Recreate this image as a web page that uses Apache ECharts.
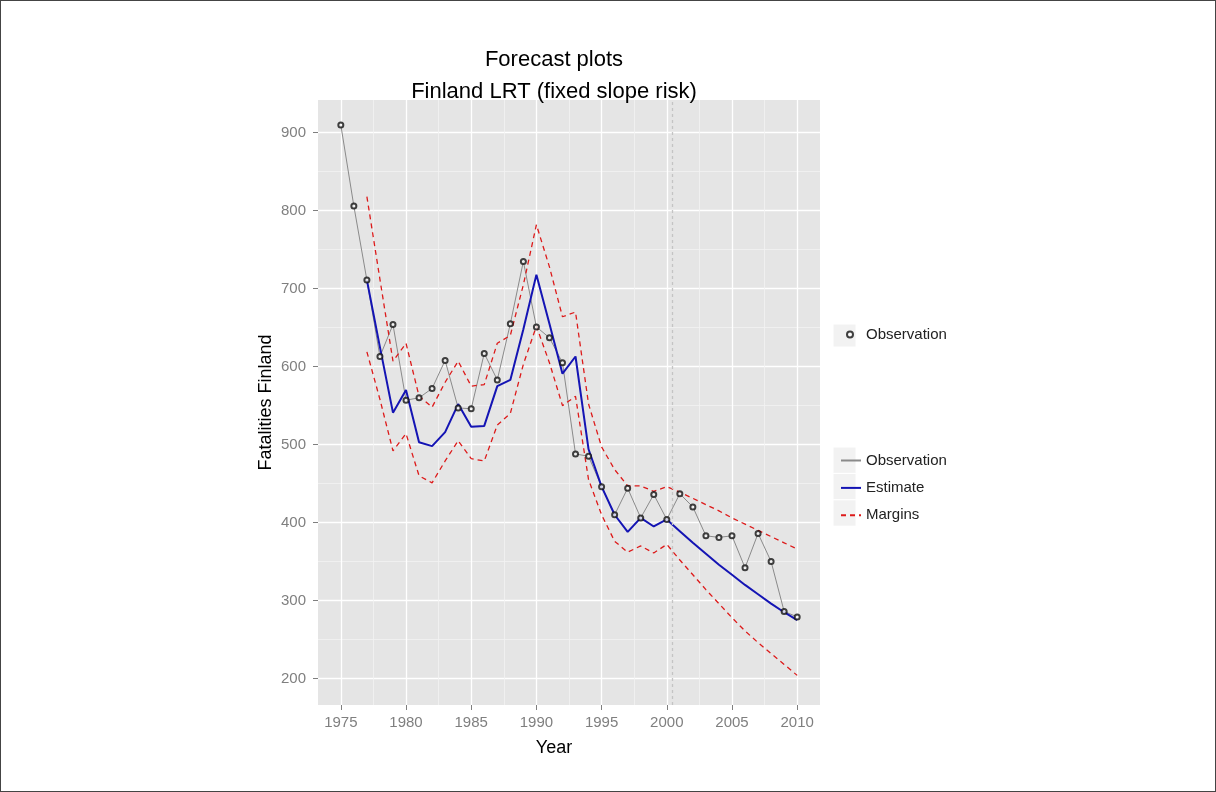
<!DOCTYPE html>
<html>
<head>
<meta charset="utf-8">
<title>Forecast plots</title>
<script src="https://cdn.jsdelivr.net/npm/echarts@6/dist/echarts.min.js"></script>
<style>
  html, body { margin: 0; padding: 0; background: #fff; }
  #frame { width: 1216px; height: 792px; box-sizing: border-box; border: 1px solid #444; }
  #chart { width: 1214px; height: 790px; }
</style>
</head>
<body>
<div id="frame"><div id="chart"></div></div>
<script>
// observed fatalities, one per year
const obsYears = [1975, 1976, 1977, 1978, 1979, 1980, 1981, 1982, 1983, 1984, 1985, 1986,
  1987, 1988, 1989, 1990, 1991, 1992, 1993, 1994, 1995, 1996, 1997, 1998,
  1999, 2000, 2001, 2002, 2003, 2004, 2005, 2006, 2007, 2008, 2009, 2010];
const observed = [910, 806, 711, 613, 654, 557, 560, 572, 608, 547, 546, 617,
  583, 655, 735, 651, 637, 605, 488, 485, 446, 410, 444, 406,
  436, 404, 437, 420, 383, 381, 383, 342, 386, 350, 286, 279];

// model estimate and margins start in 1977
const estYears = [1977, 1978, 1979, 1980, 1981, 1982, 1983, 1984, 1985, 1986, 1987, 1988,
  1989, 1990, 1991, 1992, 1993, 1994, 1995, 1996, 1997, 1998, 1999, 2000,
  2001, 2002, 2003, 2004, 2005, 2006, 2007, 2008, 2009, 2010];
const estimate = [711, 625, 541, 570, 503, 498, 516, 552, 523, 524, 575, 583,
  648, 718, 655, 591, 613, 494, 446, 410, 388, 406, 395, 404,
  389, 374, 360, 346, 333, 320, 308, 296, 285, 275];
const upper = [818, 712, 607, 630, 562, 548, 580, 607, 575, 577, 630, 640,
  705, 782, 728, 664, 670, 552, 497, 468, 447, 447, 440, 446,
  439, 431, 423, 415, 406, 398, 390, 382, 374, 366];
const lower = [619, 558, 492, 514, 460, 451, 479, 505, 482, 479, 525, 540,
  603, 652, 605, 550, 562, 455, 410, 376, 362, 370, 361, 372,
  352, 333, 314, 296, 278, 261, 246, 232, 218, 204];

const forecastStart = 2000.4;

// axis breaks
const xMajor = [1975, 1980, 1985, 1990, 1995, 2000, 2005, 2010];
const xMinor = [1977.5, 1982.5, 1987.5, 1992.5, 1997.5, 2002.5, 2007.5];
const yMajor = [200, 300, 400, 500, 600, 700, 800, 900];
const yMinor = [250, 350, 450, 550, 650, 750, 850];

const font = "'Liberation Sans', Arial, sans-serif";
const grey = '#7f7f7f';

const pairs = (xs, ys) => xs.map((x, i) => [x, ys[i]]);

const chart = echarts.init(document.getElementById('chart'));

const option = {
  animation: false,
  backgroundColor: '#fff',
  textStyle: { fontFamily: font },
  title: [
    {
      text: 'Forecast plots\nFinland LRT (fixed slope risk)',
      left: 548, top: 38, textAlign: 'center',
      textStyle: { fontSize: 22, fontWeight: 'normal', color: '#000', lineHeight: 32, fontFamily: font }
    },
    {
      text: 'Year',
      left: 548, top: 733, textAlign: 'center',
      textStyle: { fontSize: 18, fontWeight: 'normal', color: '#000', fontFamily: font }
    }
  ],
  grid: {
    left: 317, right: 395, top: 99, bottom: 86,
    show: true, backgroundColor: '#e5e5e5', borderWidth: 0
  },
  legend: [
    {
      data: ['ObsPoints'],
      formatter: () => 'Observation',
      left: 840, top: 321,
      itemWidth: 6, itemHeight: 14,
      textStyle: { fontSize: 15, color: '#222', fontFamily: font, padding: [0, 0, 0, 8] }
    },
    {
      data: ['Observation', 'Estimate', 'Margins'],
      orient: 'vertical',
      left: 834, top: 447,
      itemWidth: 20, itemHeight: 14, itemGap: 12.4,
      itemStyle: { opacity: 0 },
      textStyle: { fontSize: 15, color: '#222', fontFamily: font, padding: [0, 0, 0, 0] }
    }
  ],
  graphic: [
    { type: 'rect', silent: true, z: -1, shape: { x: 832, y: 323, width: 23, height: 23 }, style: { fill: '#f2f2f2', stroke: '#fff' } },
    { type: 'rect', silent: true, z: -1, shape: { x: 832, y: 446, width: 23, height: 26.4 }, style: { fill: '#f2f2f2', stroke: '#fff' } },
    { type: 'rect', silent: true, z: -1, shape: { x: 832, y: 472.4, width: 23, height: 26.4 }, style: { fill: '#f2f2f2', stroke: '#fff' } },
    { type: 'rect', silent: true, z: -1, shape: { x: 832, y: 498.8, width: 23, height: 26.4 }, style: { fill: '#f2f2f2', stroke: '#fff' } }
  ],
  xAxis: [
    {
      type: 'value', min: 1973.25, max: 2011.75,
      axisLine: { show: false },
      axisTick: { show: true, length: 5, customValues: xMajor, lineStyle: { color: grey } },
      axisLabel: { customValues: xMajor, formatter: (v) => String(v), color: grey, fontSize: 15, margin: 10, fontFamily: font },
      splitLine: { show: true, lineStyle: { color: '#fff', width: 1.3 } }
    },
    {
      type: 'value', min: 1973.25, max: 2011.75, position: 'bottom',
      axisLine: { show: false },
      axisTick: { show: false, customValues: xMinor },
      axisLabel: { show: false },
      splitLine: { show: true, lineStyle: { color: '#f2f2f2', width: 0.8 } }
    }
  ],
  yAxis: [
    {
      type: 'value', min: 166, max: 942,
      name: 'Fatalities Finland', nameLocation: 'middle', nameGap: 43,
      nameTextStyle: { fontSize: 18, color: '#000', fontFamily: font },
      axisLine: { show: false },
      axisTick: { show: true, length: 5, customValues: yMajor, lineStyle: { color: grey } },
      axisLabel: { customValues: yMajor, color: grey, fontSize: 15, margin: 12, fontFamily: font },
      splitLine: { show: true, lineStyle: { color: '#fff', width: 1.3 } }
    },
    {
      type: 'value', min: 166, max: 942, position: 'left',
      axisLine: { show: false },
      axisTick: { show: false, customValues: yMinor },
      axisLabel: { show: false },
      splitLine: { show: true, lineStyle: { color: '#f2f2f2', width: 0.8 } }
    }
  ],
  series: [
    {
      name: 'Observation', type: 'line',
      data: pairs(obsYears, observed),
      symbol: 'none',
      lineStyle: { color: '#8a8a8a', width: 1 },
      itemStyle: { color: '#8a8a8a' },
      z: 2
    },
    {
      name: 'Estimate', type: 'line',
      data: pairs(estYears, estimate),
      symbol: 'none',
      lineStyle: { color: '#1414b4', width: 2 },
      itemStyle: { color: '#1414b4' },
      markLine: {
        silent: true, symbol: 'none', label: { show: false },
        lineStyle: { color: '#c4c4c4', width: 1.3, type: [3, 3] },
        data: [{ xAxis: forecastStart }]
      },
      z: 3
    },
    {
      name: 'Margins', type: 'line',
      data: pairs(estYears, upper),
      symbol: 'none',
      lineStyle: { color: '#dd1a1a', width: 1.3, type: [5, 4] },
      itemStyle: { color: '#dd1a1a' },
      z: 4
    },
    {
      name: 'Margins', type: 'line',
      data: pairs(estYears, lower),
      symbol: 'none',
      lineStyle: { color: '#dd1a1a', width: 1.3, type: [5, 4] },
      itemStyle: { color: '#dd1a1a' },
      z: 4
    },
    {
      name: 'ObsPoints', type: 'scatter',
      data: pairs(obsYears, observed),
      symbol: 'emptyCircle', symbolSize: 5,
      itemStyle: { color: '#111', borderColor: '#111', borderWidth: 1 },
      z: 5
    }
  ]
};

chart.setOption(option);
</script>
</body>
</html>
